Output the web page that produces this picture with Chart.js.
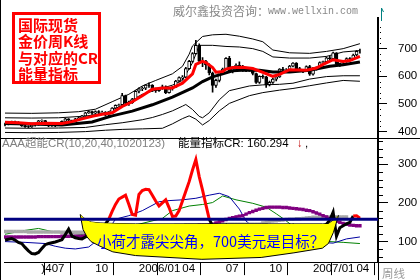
<!DOCTYPE html>
<html>
<head>
<meta charset="utf-8">
<script src="https://cdn.jsdelivr.net/npm/chart.js@4.4.1/dist/chart.umd.min.js"></script>
<style>
html,body{margin:0;padding:0;background:#fff}
</style>
</head>
<body>
<canvas id="c" width="420" height="280"></canvas>
<script>
// weekly gold candles, week 0 = first week of April 2005
const openP  = [427,426,429,436,434,427,421,418,417,424,424,439,440,425,422,422,425,429,437,446,441,437,446,450,457,468,472,467,472,469,470,459,467,485,495,497,530,503,505,518,546,555,557,568,567,553,548,556,562,541,555,561,583,595,597,628,654,682,712,655,654,641,612,567,585,614,626,665,618,634,640,637,623,622,626,610,578,600,598,570,578,590,598,626,622,623,637,648,628,622,621,635,608,630,631,650,653,667,664,685,646,654,655,664,662,677,690];
const highP  = [431,432,438,438,436,428,423,421,426,428,441,443,441,427,426,428,431,439,448,447,442,448,452,459,470,476,474,475,476,474,472,468,487,497,500,538,532,510,520,548,558,562,570,576,570,557,558,568,566,557,564,585,598,603,632,658,686,730,717,668,658,645,615,590,616,630,668,672,636,645,652,640,630,632,630,612,602,605,600,583,593,600,628,632,628,640,650,650,632,624,638,640,632,634,652,655,670,672,688,686,658,658,667,668,680,693,698];
const lowP   = [421,424,427,430,425,419,415,414,415,420,423,434,423,418,419,418,423,427,435,437,434,436,442,447,455,466,462,465,465,465,456,455,466,483,492,496,494,495,502,516,540,548,552,560,545,542,545,553,537,539,550,559,580,588,595,625,650,680,650,635,625,605,543,560,580,608,624,615,612,630,634,618,617,618,605,574,574,592,560,565,574,583,596,618,615,620,634,625,617,613,619,603,604,622,628,642,650,660,662,641,636,642,650,658,660,675,684];
const closeP = [426,429,436,434,427,421,418,417,424,424,439,440,425,422,422,425,429,437,446,441,437,446,450,457,468,472,467,472,469,470,459,467,485,495,497,530,503,505,518,546,555,557,568,567,553,548,556,562,541,555,561,583,595,597,628,654,682,712,655,654,641,612,567,585,614,626,665,618,634,640,637,623,622,626,610,578,600,598,570,578,590,598,626,622,623,637,648,628,622,621,635,608,630,631,650,653,667,664,685,646,654,655,664,662,677,690,690];

// moving averages drawn on the price panel
const redWeeks  = [0,4,8,12,17,20,23,26,29,32,35,38,41,44,47,50,53,56,57,59,60,62,63,65,66,68,71,74,77,80,82,85,90,93,95,98,101,103,106];
const redMA     = [434,432,428,430,429,436,446,455,463,468,491,508,530,553,558,558,575,609,643,654,650,632,615,617,626,632,633,628,614,600,607,624,622,630,643,660,654,657,672];
const blackWeeks = [0,10,17,26,32,38,44,50,56,59,62,65,68,72,76,80,85,91,97,101,106];
const blackMA    = [429,427,424,435,457,474,497,525,558,581,598,609,620,623,622,616,616,622,636,642,652];

// envelope bands
const upperOuterWeeks = [0,8,16,22,27,32,37,41,45,50,53,55,56,59,62,66,70,74,77,80,85,91,96,101,106];
const upperOuter      = [467,466,468,472,481,508,535,565,585,609,636,680,710,744,750,752,745,735,725,695,685,683,690,700,718];
const upperInnerWeeks = [0,8,16,24,30,35,41,45,50,53,56,58,62,66,70,74,77,80,85,91,96,101,106];
const upperInner      = [450,449,450,456,467,495,535,550,568,585,649,712,712,708,706,700,690,670,666,666,672,688,693];
const lowerInnerWeeks = [0,8,16,24,30,35,41,44,47,50,53,54,56,58,59,61,64,67,73,77,82,86,91,96,101,106];
const lowerInner      = [413,412,413,415,425,432,443,451,462,475,492,498,480,455,450,468,515,548,565,569,571,575,590,599,602,602];
const lowerOuterWeeks = [0,8,16,24,30,35,41,47,50,53,55,57,59,61,64,67,73,77,82,86,91,96,101,106];
const lowerOuter      = [397,396,397,400,405,408,410,412,428,447,457,445,424,440,475,502,530,541,550,556,566,576,585,582];

// CR indicator, weekly
const crValues = [104,106,108,104,98,95,85,76,69,68,72,82,92,95,97,99,102,105,118,132,114,110,108,107,
  112,118,125,120,130,138,145,158,178,196,210,215,220,196,170,168,222,232,235,234,220,205,192,200,208,188,165,166,180,205,230,255,285,312,268,233,195,158,
  140,125,118,128,140,120,115,118,112,100,95,98,90,78,85,88,80,85,95,105,125,130,128,135,142,130,120,115,122,110,120,125,135,140,145,
  155,176,114,136,141,146,150,166,167,160.294];
const purpleCR = [112,112,112,112,112,112,112,112,112,112,113,113,113,113,113,113,113,114,114,114,114,114,114,114,
  115,115,116,117,118,119,120,121,122,123,124,125,126,127,128,129,130,131,132,133,134,135,136,136,137,137,138,138,139,139,140,140,141,141,142,142,142,
  143,145,148,151,154,157,160,162,164,166,167,171,175,178,181,184,186,188,189,189,189,189,188,188,187,186,185,184,183,181,180,177,174,171,167,164,160,157,153,150,147,145,143,142,141,141];
const grayCR = [126,126,126,126,126,126,126,125,125,125,125,125,125,125,125,125,125,124,124,124,124,124,124,124,
  125,126,127,127,128,129,130,130,131,132,133,133,134,135,135,136,137,137,138,138,139,139,140,140,141,141,141,142,142,142,143,143,143,143,144,144,144,144,144,145,145,145,145,145,145,145,145,145,145,145,145,145,145,
  148,150,152,153,154,155,156,157,158,158,159,159,160,161,162,163,163,163,164,164,164,164,164,164,164,164];
const blueWeeks = [0,6,12,15,18,21,25,30,33,37,41,46,49,53,57,61,64,67,70,72,76,82,88,94,98,102,106];
const blueCR    = [100,98,95,88,83,81,86,120,158,167,180,203,206,208,212,220,225,216,184,153,125,105,100,98,96,107,112];
const greenWeeks = [0,6,10,15,23,30,40,47,50,55,59,62,65,69,74,78,81,83,86,92,97,101,106];
const greenCR    = [119,129,134,124,119,128,145,160,180,192,196,201,218,208,199,189,172,160,140,115,100,98,95];
const crLevel = 158;

// yellow callout outline (week, CR units)
const bananaWeeks  = [22.45,23.3,24.5,25.7,28.4,32.2,39.0,58.8,76.5,86.3,94.8,96.6,98.1,99.6];
const bananaTop    = [170,162.7,155.4,150.6,148.2,147,145.8,145.8,145.8,145.8,145.8,145.8,155.4,167.5];
const bananaBottom = [170,131.3,112,100,88,73.5,63.9,54.2,59,71,83,95.2,124,167.5];

const tickWeeks  = [10.85,13,26,39,52,65,78,91,104];
const tickLabels = [')4',' 07',' 10',' 2006/01',' 04',' 07',' 10',' 2007/01',' 04'];
const priceTicks = [400,500,600,700];
const crTicks    = [100,200,300];

const xMin = -0.3, xMax = 111.4;
const weeks = openP.map((_, i) => i);
const pts = (xs, ys) => xs.map((x, i) => ({x: x, y: ys[i]}));

function line(xs, ys, axis, color, width, order, extra) {
  return Object.assign({
    type: 'line', data: pts(xs, ys), yAxisID: axis,
    borderColor: color, borderWidth: width, pointRadius: 0, fill: false, order: order
  }, extra || {});
}

const datasets = [
  line(redWeeks, redMA, 'yTop', '#ff0000', 3, 1),
  line(blackWeeks, blackMA, 'yTop', '#000000', 3, 2),
  {
    type: 'bar', yAxisID: 'yTop', order: 3, grouped: false, barThickness: 3,
    data: weeks.map(i => ({x: i, y: [openP[i], closeP[i]]})),
    borderWidth: 1, borderColor: '#000', borderSkipped: false,
    backgroundColor: c => closeP[c.dataIndex] >= openP[c.dataIndex] ? '#ffffff' : '#000000'
  },
  {
    type: 'bar', yAxisID: 'yTop', order: 4, grouped: false, barThickness: 1,
    data: weeks.map(i => ({x: i, y: [lowP[i], highP[i]]})),
    borderWidth: 0, backgroundColor: '#000'
  },
  line(upperOuterWeeks, upperOuter, 'yTop', '#000', 1, 5),
  line(upperInnerWeeks, upperInner, 'yTop', '#000', 1, 5),
  line(lowerInnerWeeks, lowerInner, 'yTop', '#000', 1, 5),
  line(lowerOuterWeeks, lowerOuter, 'yTop', '#000', 1, 5),

  line([xMin, xMax], [crLevel, crLevel], 'yBot', '#000080', 3, 1),
  line(bananaWeeks, bananaBottom, 'yBot', '#000', 1, 2, {fill: '+1', backgroundColor: '#ffff00'}),
  line(bananaWeeks, bananaTop, 'yBot', '#000', 1, 2),
  line(weeks, crValues, 'yBot', '#000', 3, 3, {
    segment: { borderColor: c => (c.p0.parsed.y >= crLevel && c.p1.parsed.y >= crLevel) ? '#ff0000' : '#000000' }
  }),
  line(weeks, purpleCR, 'yBot', '#800080', 2, 4, {pointRadius: 2.4, pointStyle: 'rect', pointBackgroundColor: '#800080', pointBorderWidth: 0}),
  line(weeks, grayCR, 'yBot', '#a8a8a8', 2, 5, {pointRadius: 2.4, pointStyle: 'rect', pointBackgroundColor: '#a8a8a8', pointBorderWidth: 0}),
  line(blueWeeks, blueCR, 'yBot', '#0000a0', 1, 6),
  line(greenWeeks, greenCR, 'yBot', '#008000', 1, 7)
];

const tickFont = {family: 'Liberation Sans', size: 11.5};

const decor = {
  id: 'decor',
  afterDraw(chart) {
    const ctx = chart.ctx, a = chart.chartArea;
    const yT = chart.scales.yTop, yB = chart.scales.yBot;
    ctx.save();
    ctx.strokeStyle = '#000';
    ctx.lineWidth = 1;
    ctx.beginPath();
    ctx.moveTo(0.5, 0); ctx.lineTo(0.5, chart.height);
    ctx.moveTo(0, Math.round(yT.bottom) + 0.5); ctx.lineTo(chart.width, Math.round(yT.bottom) + 0.5);
    ctx.moveTo(a.right, Math.round(a.bottom) + 0.5); ctx.lineTo(chart.width, Math.round(a.bottom) + 0.5);
    ctx.moveTo(Math.round(a.right) + 0.5, a.bottom); ctx.lineTo(Math.round(a.right) + 0.5, chart.height);
    ctx.stroke();

    // minor ticks
    ctx.fillStyle = '#000';
    for (let v = 420; v <= 800; v += 20) {
      if (v % 100) ctx.fillRect(a.right + 2, Math.round(yT.getPixelForValue(v)), 1, 1);
    }
    for (let v = 60; v <= 360; v += 20) {
      if (v % 100) ctx.fillRect(a.right + 1, Math.round(yB.getPixelForValue(v)), 4, 1);
    }

    // teal marker at top of price axis
    ctx.strokeStyle = '#008080';
    ctx.beginPath();
    ctx.moveTo(381.5, 21); ctx.lineTo(381.5, 8);
    ctx.moveTo(381.5, 8); ctx.lineTo(383.5, 12);
    ctx.stroke();

    // title box
    ctx.fillStyle = '#fff';
    ctx.fillRect(13, 13, 87, 70);
    ctx.strokeStyle = '#ff0000';
    ctx.lineWidth = 3;
    ctx.strokeRect(13.5, 13.5, 86, 69);
    ctx.fillStyle = '#ff0000';
    ctx.font = 'bold 15px "Noto Sans CJK SC"';
    ctx.textBaseline = 'middle';
    ctx.textAlign = 'left';
    ['国际现货', '金价周K线', '与对应的CR', '能量指标'].forEach((t, i) => ctx.fillText(t, 18, 25 + i * 16.4));

    // watermark
    ctx.fillStyle = '#888';
    ctx.font = '12px "Noto Sans CJK SC"';
    ctx.fillText('威尔鑫投资咨询：', 173, 11);
    ctx.font = '10px "Liberation Mono"';
    ctx.fillText('www.wellxin.com', 268, 11);

    // indicator header
    ctx.font = '11.5px "Liberation Sans", "Noto Sans CJK SC"';
    ctx.fillStyle = '#808080';
    ctx.fillText('AAA超能CR(10,20,40,1020123)', 2, 144);
    ctx.fillStyle = '#000';
    ctx.fillText('能量指标CR: 160.294', 178, 144);
    ctx.fillStyle = '#c00000';
    ctx.fillText('↓', 297, 144);
    ctx.fillStyle = '#000';
    ctx.fillText(',', 305, 144);

    // callout text
    ctx.fillStyle = '#0000ff';
    ctx.font = '14.5px "Noto Sans CJK SC"';
    ctx.fillText('小荷才露尖尖角，700美元是目标？', 97, 241);

    // period label
    ctx.fillStyle = '#999';
    ctx.font = '11.5px "Noto Sans CJK SC"';
    ctx.fillText('周线', 382, 274);
    ctx.restore();
  }
};

new Chart(document.getElementById('c'), {
  type: 'line',
  data: { datasets: datasets },
  options: {
    responsive: false,
    animation: false,
    devicePixelRatio: 1,
    layout: { padding: { top: 5, left: 0, right: 0, bottom: 0 } },
    plugins: { legend: { display: false }, tooltip: { enabled: false } },
    elements: { line: { tension: 0 } },
    scales: {
      x: {
        type: 'linear', min: xMin, max: xMax, offset: false,
        afterBuildTicks: s => { s.ticks = tickWeeks.map(v => ({value: v})); },
        afterFit: s => { s.height = 13; },
        ticks: { autoSkip: false, maxRotation: 0, align: 'start', padding: -13, color: '#000', font: tickFont,
          callback: (v, i) => tickLabels[i] },
        grid: { drawOnChartArea: false, tickLength: 13, tickWidth: 1,
          tickColor: c => c.index === 0 ? 'rgba(0,0,0,0)' : '#000' },
        border: { display: true, color: '#000', width: 1 }
      },
      yTop: {
        type: 'linear', position: 'right', stack: 'panels', stackWeight: 129,
        min: 376.4, max: 811.2,
        afterBuildTicks: s => { s.ticks = priceTicks.map(v => ({value: v})); },
        afterFit: s => { s.width = 42; },
        ticks: { padding: 11, color: '#000', font: tickFont },
        grid: { drawOnChartArea: false, tickLength: 9, tickColor: '#000' },
        border: { display: true, color: '#000', width: 2 }
      },
      yBot: {
        type: 'linear', position: 'right', stack: 'panels', stackWeight: 133,
        min: 47, max: 367.5,
        afterBuildTicks: s => { s.ticks = crTicks.map(v => ({value: v})); },
        afterFit: s => { s.width = 42; },
        ticks: { padding: 10, color: '#000', font: tickFont },
        grid: { drawOnChartArea: false, tickLength: 10, tickColor: '#000' },
        border: { display: true, color: '#000', width: 2 }
      }
    }
  },
  plugins: [decor]
});
</script>
</body>
</html>
